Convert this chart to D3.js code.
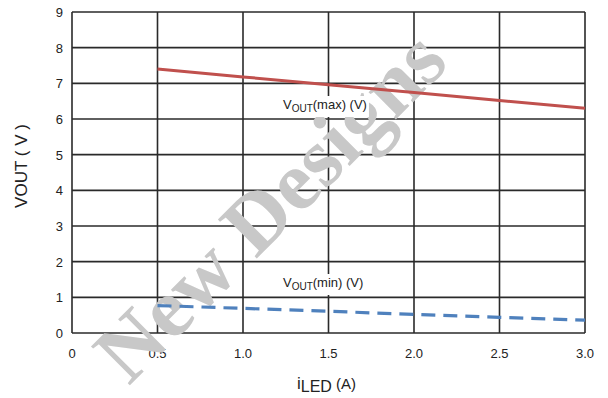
<!DOCTYPE html>
<html>
<head>
<meta charset="utf-8">
<script src="https://cdn.jsdelivr.net/npm/d3@7"></script>
<style>
  body { margin: 0; background: #fff; }
  svg text { font-family: "Liberation Sans", Arial, sans-serif; }
</style>
</head>
<body>
<div id="chart"></div>
<script>
// data
var iLed = [0.5, 1.0, 1.5, 2.0, 2.5, 3.0];
var voutMax = [7.4, 7.18, 6.96, 6.74, 6.52, 6.3];
var voutMin = [0.77, 0.69, 0.61, 0.52, 0.44, 0.36];
var xTicks = [0, 0.5, 1.0, 1.5, 2.0, 2.5, 3.0];
var yTicks = [0, 1, 2, 3, 4, 5, 6, 7, 8, 9];

var width = 608, height = 398;
var margin = {left: 72, right: 23, top: 12, bottom: 65};

var svg = d3.select("#chart").append("svg")
    .attr("width", width)
    .attr("height", height);

var x = d3.scaleLinear().domain([0, 3]).range([margin.left, width - margin.right]);
var y = d3.scaleLinear().domain([0, 9]).range([height - margin.bottom, margin.top]);

//grid
var grid = svg.append("g").attr("stroke", "#2a2a2a").attr("stroke-width", 1.6);
grid.selectAll(".vx").data(xTicks).enter().append("line")
    .attr("x1", d => x(d)).attr("x2", d => x(d))
    .attr("y1", y(0)).attr("y2", y(9));
grid.selectAll(".hy").data(yTicks).enter().append("line")
    .attr("x1", x(0)).attr("x2", x(3))
    .attr("y1", d => y(d)).attr("y2", d => y(d));

//tick labels
svg.append("g").selectAll("text").data(yTicks).enter().append("text")
    .attr("x", 63).attr("y", d => y(d) + 5)
    .attr("text-anchor", "end")
    .attr("font-size", 13).attr("fill", "#222")
    .text(d => d);
svg.append("g").selectAll("text").data(xTicks).enter().append("text")
    .attr("x", d => x(d)).attr("y", 358)
    .attr("text-anchor", "middle")
    .attr("font-size", 13).attr("fill", "#222")
    .text(d => d === 0 ? "0" : d.toFixed(1));

//watermark
svg.append("text")
    .attr("transform", "translate(276,212) rotate(-45)")
    .attr("text-anchor", "middle")
    .attr("dominant-baseline", "middle")
    .style("font-family", "'Liberation Serif', 'Times New Roman', serif")
    .style("font-weight", "bold")
    .attr("font-size", 84)
    .attr("fill", "#c8c8c8")
    .text("New Designs");

//lines
var line = d3.line().x((d, i) => x(iLed[i])).y(d => y(d));
svg.append("path").datum(voutMax)
    .attr("d", line)
    .attr("fill", "none")
    .attr("stroke", "#c0504d")
    .attr("stroke-width", 3);
svg.append("path").datum(voutMin)
    .attr("d", line)
    .attr("fill", "none")
    .attr("stroke", "#4f81bd")
    .attr("stroke-width", 3.2)
    .attr("stroke-dasharray", "14,8");

//series labels with white box
function seriesLabel(px, py, tail) {
    var g = svg.append("g");
    var bg = g.append("rect").attr("fill", "#fff");
    var t = g.append("text").attr("x", px).attr("y", py)
        .attr("font-size", 13).attr("fill", "#222");
    t.append("tspan").text("V");
    t.append("tspan").attr("font-size", 10).attr("dy", 3).text("OUT");
    t.append("tspan").attr("dy", -3).text(tail);
    var b = t.node().getBBox();
    bg.attr("x", b.x - 2).attr("y", b.y - 1)
      .attr("width", b.width + 4).attr("height", b.height + 4);
}
seriesLabel(283, 109, "(max) (V)");
seriesLabel(283, 287, "(min) (V)");

//axis titles
var xt = svg.append("text").attr("x", 297).attr("y", 389)
    .attr("font-size", 17).attr("fill", "#222");
xt.append("tspan").text("i");
xt.append("tspan").attr("font-size", 16).attr("dy", 3).text("LED");
xt.append("tspan").attr("font-size", 15).attr("dy", -3).text(" (A)");

svg.append("text")
    .attr("transform", "translate(27,166) rotate(-90)")
    .attr("text-anchor", "middle")
    .attr("font-size", 17).attr("fill", "#222")
    .text("VOUT ( V )");
</script>
</body>
</html>
